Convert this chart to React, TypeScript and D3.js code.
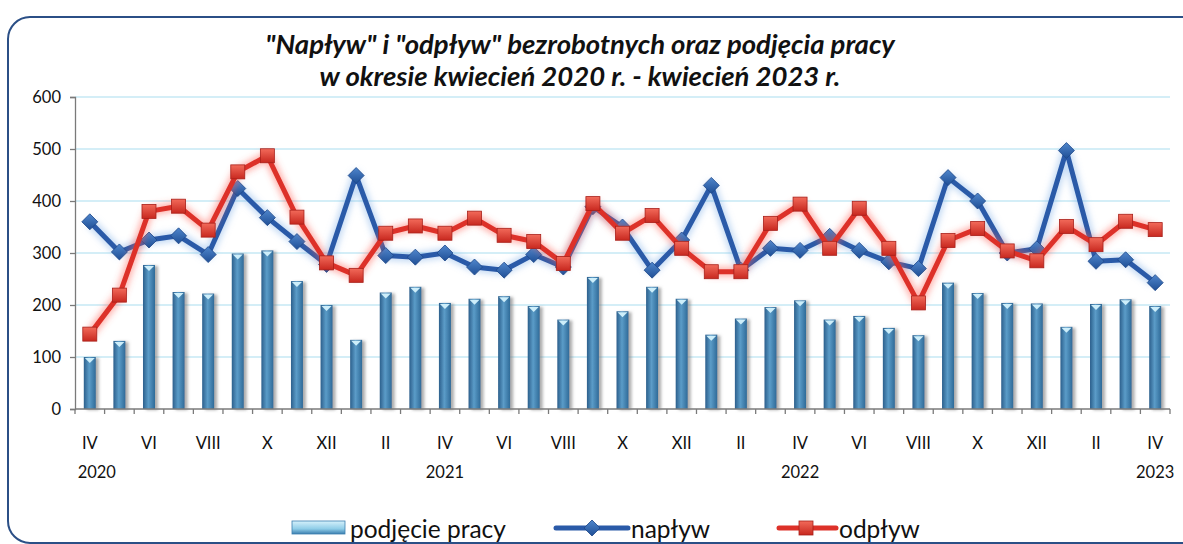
import * as d3 from "d3";
import { useEffect, useRef } from "react";

// months IV 2020 .. IV 2023
const months = [
  "IV", "V", "VI", "VII", "VIII", "IX", "X", "XI", "XII", "I", "II", "III",
  "IV", "V", "VI", "VII", "VIII", "IX", "X", "XI", "XII", "I", "II", "III",
  "IV", "V", "VI", "VII", "VIII", "IX", "X", "XI", "XII", "I", "II", "III",
  "IV",
];
const yearLabels = [
  { index: 0, text: "2020" },
  { index: 12, text: "2021" },
  { index: 24, text: "2022" },
  { index: 36, text: "2023" },
];
const podjecie = [
  100, 131, 277, 225, 222, 299, 305, 246, 200, 133, 224, 235,
  204, 212, 217, 198, 172, 254, 188, 235, 212, 143, 174, 196,
  209, 172, 179, 156, 142, 243, 223, 204, 203, 158, 202, 211,
  198,
];
const naplyw = [
  360, 302, 325, 333, 297, 424, 368, 322, 278, 449, 295, 292,
  300, 273, 267, 297, 273, 389, 350, 267, 325, 430, 267, 309,
  305, 332, 305, 283, 270, 445, 400, 300, 308, 497, 284, 287,
  243,
];
const odplyw = [
  144, 219, 380, 390, 344, 456, 487, 369, 281, 257, 338, 352,
  338, 367, 334, 322, 280, 395, 338, 372, 309, 264, 264, 357,
  394, 309, 386, 309, 204, 324, 347, 304, 285, 351, 316, 361,
  345,
];
const yTicks = [0, 100, 200, 300, 400, 500, 600];

const W = 1183;
const H = 544;
const FONT = "Lato, 'Open Sans', sans-serif";

export default function App() {
  const svgRef = useRef<SVGSVGElement>(null);

  useEffect(() => {
    const left = 75, right = 1170;
    const svg = d3.select(svgRef.current).html("");

    const defs = svg.append("defs");
    const barGrad = defs.append("linearGradient").attr("id", "barGrad")
      .attr("x1", 0).attr("x2", 1).attr("y1", 0).attr("y2", 0);
    barGrad.append("stop").attr("offset", "0%").attr("stop-color", "#2c5f8c");
    barGrad.append("stop").attr("offset", "45%").attr("stop-color", "#5b9cc8");
    barGrad.append("stop").attr("offset", "100%").attr("stop-color", "#2f6a98");
    const legGrad = defs.append("linearGradient").attr("id", "legGrad")
      .attr("x1", 0).attr("x2", 0).attr("y1", 0).attr("y2", 1);
    legGrad.append("stop").attr("offset", "0%").attr("stop-color", "#d6f1fb");
    legGrad.append("stop").attr("offset", "60%").attr("stop-color", "#8fcde8");
    legGrad.append("stop").attr("offset", "100%").attr("stop-color", "#3c7fb0");
    const sqGrad = defs.append("linearGradient").attr("id", "sqGrad")
      .attr("x1", 0).attr("x2", 0).attr("y1", 0).attr("y2", 1);
    sqGrad.append("stop").attr("offset", "0%").attr("stop-color", "#f26a5a");
    sqGrad.append("stop").attr("offset", "100%").attr("stop-color", "#c8281f");
    const dmGrad = defs.append("linearGradient").attr("id", "dmGrad")
      .attr("x1", 0).attr("x2", 0).attr("y1", 0).attr("y2", 1);
    dmGrad.append("stop").attr("offset", "0%").attr("stop-color", "#4f86cc");
    dmGrad.append("stop").attr("offset", "100%").attr("stop-color", "#1f4f96");
    const blur = defs.append("filter").attr("id", "glow")
      .attr("x", "-10%").attr("y", "-30%").attr("width", "120%").attr("height", "160%");
    blur.append("feGaussianBlur").attr("stdDeviation", 3);
    const shadow = defs.append("filter").attr("id", "shadow")
      .attr("x", "-50%").attr("y", "-10%").attr("width", "250%").attr("height", "130%");
    shadow.append("feDropShadow").attr("dx", 3).attr("dy", 1)
      .attr("stdDeviation", 1.5).attr("flood-color", "#777").attr("flood-opacity", 0.6);

    // frame
    svg.append("rect")
      .attr("x", 8).attr("y", 17).attr("width", 1200).attr("height", 526)
      .attr("rx", 22).attr("fill", "#fff")
      .attr("stroke", "#2b4f86").attr("stroke-width", 2);

    // title
    const title = svg.append("text")
      .attr("text-anchor", "middle")
      .attr("font-family", FONT).attr("font-weight", "bold")
      .attr("font-style", "italic").attr("font-size", 27.5).attr("fill", "#111");
    title.append("tspan").attr("x", 580).attr("y", 54)
      .text('"Napływ" i "odpływ" bezrobotnych oraz podjęcia pracy');
    title.append("tspan").attr("x", 580).attr("y", 86)
      .text("w okresie kwiecień 2020 r. - kwiecień 2023 r.");

    const x = d3.scaleBand<number>()
      .domain(d3.range(months.length))
      .range([left, right])
      .padding(0);
    const y = d3.scaleLinear().domain([0, 600]).range([409, 97]);
    const cx = (i: number) => (x(i) as number) + x.bandwidth() / 2;

    // grid
    svg.append("g")
      .selectAll("line")
      .data(yTicks.filter((t) => t > 0))
      .join("line")
      .attr("x1", left).attr("x2", right)
      .attr("y1", (d) => y(d)).attr("y2", (d) => y(d))
      .attr("stroke", "#a9def0").attr("stroke-width", 1.2);

    // y axis
    const yAxis = svg.append("g")
      .attr("transform", `translate(${left},0)`)
      .call(d3.axisLeft(y).tickValues(yTicks).tickSize(5).tickPadding(9));
    yAxis.select(".domain").attr("stroke", "#7a7a7a").attr("stroke-width", 1.3);
    yAxis.selectAll(".tick line").attr("stroke", "#7a7a7a").attr("stroke-width", 1.3);
    yAxis.selectAll(".tick text")
      .attr("font-family", FONT).attr("font-size", 16.5).attr("fill", "#111");

    // bars
    const bw = 12;
    const bars = svg.append("g").attr("filter", "url(#shadow)");
    bars.selectAll("rect")
      .data(podjecie)
      .join("rect")
      .attr("x", (_, i) => cx(i) - bw / 2)
      .attr("width", bw)
      .attr("y", (d) => y(d))
      .attr("height", (d) => y(0) - y(d))
      .attr("fill", "url(#barGrad)");
    svg.append("g")
      .selectAll("path")
      .data(podjecie)
      .join("path")
      .attr("d", (d, i) => `M${cx(i) - 5},${y(d) + 1}L${cx(i) + 5},${y(d) + 1}L${cx(i)},${y(d) + 6}Z`)
      .attr("fill", "#cdeefa");

    // x axis
    const xAxisY = y(0);
    svg.append("line")
      .attr("x1", left).attr("x2", right)
      .attr("y1", xAxisY).attr("y2", xAxisY)
      .attr("stroke", "#7a7a7a").attr("stroke-width", 1.3);
    svg.append("g")
      .selectAll("line")
      .data(d3.range(months.length + 1))
      .join("line")
      .attr("x1", (i) => (i < months.length ? (x(i) as number) : right))
      .attr("x2", (i) => (i < months.length ? (x(i) as number) : right))
      .attr("y1", xAxisY).attr("y2", xAxisY + 5)
      .attr("stroke", "#7a7a7a").attr("stroke-width", 1.3);
    svg.append("g")
      .selectAll("text")
      .data(months.map((m, i) => ({ m, i })).filter((d) => d.i % 2 === 0))
      .join("text")
      .attr("x", (d) => cx(d.i)).attr("y", 449)
      .attr("text-anchor", "middle")
      .attr("font-family", FONT).attr("font-size", 16.5).attr("fill", "#111")
      .text((d) => d.m);
    svg.append("g")
      .selectAll("text")
      .data(yearLabels)
      .join("text")
      .attr("x", (d) => cx(d.index) + (d.index === 0 ? 7 : 0)).attr("y", 478)
      .attr("text-anchor", "middle")
      .attr("font-family", FONT).attr("font-size", 16.5).attr("fill", "#111")
      .text((d) => d.text);

    // lines
    const line = d3.line<number>().x((_, i) => cx(i)).y((d) => y(d));
    const series = [
      { data: naplyw, color: "#2a5aa8", glow: "#7fb0e6", marker: "diamond" },
      { data: odplyw, color: "#dd3129", glow: "#ff5a50", marker: "square" },
    ];
    series.forEach((s) => {
      svg.append("path").datum(s.data).attr("d", line)
        .attr("fill", "none").attr("stroke", s.glow).attr("stroke-width", 10)
        .attr("stroke-opacity", 0.45).attr("stroke-linejoin", "round")
        .attr("filter", "url(#glow)");
      svg.append("path").datum(s.data).attr("d", line)
        .attr("fill", "none").attr("stroke", s.color).attr("stroke-width", 5)
        .attr("stroke-linejoin", "round");
      const g = svg.append("g");
      if (s.marker === "diamond") {
        g.selectAll("path").data(s.data).join("path")
          .attr("d", (d, i) => `M${cx(i)},${y(d) - 8}L${cx(i) + 8},${y(d)}L${cx(i)},${y(d) + 8}L${cx(i) - 8},${y(d)}Z`)
          .attr("fill", "url(#dmGrad)").attr("stroke", "#1d4688").attr("stroke-width", 0.8);
      } else {
        g.selectAll("rect").data(s.data).join("rect")
          .attr("x", (_, i) => cx(i) - 7).attr("y", (d) => y(d) - 7)
          .attr("width", 14).attr("height", 14)
          .attr("fill", "url(#sqGrad)").attr("stroke", "#a8201a").attr("stroke-width", 0.8);
      }
    });

    // legend
    const leg = svg.append("g").attr("font-family", FONT).attr("font-size", 24.5).attr("fill", "#111");
    leg.append("rect").attr("x", 292).attr("y", 521).attr("width", 53).attr("height", 13)
      .attr("fill", "url(#legGrad)").attr("stroke", "#3c7fb0").attr("stroke-width", 0.8);
    leg.append("text").attr("x", 350).attr("y", 538).text("podjęcie pracy");
    leg.append("line").attr("x1", 556).attr("x2", 628).attr("y1", 528).attr("y2", 528)
      .attr("stroke", "#2a5aa8").attr("stroke-width", 5).attr("stroke-linecap", "round");
    leg.append("path").attr("d", "M592,520L600,528L592,536L584,528Z")
      .attr("fill", "url(#dmGrad)").attr("stroke", "#1d4688").attr("stroke-width", 0.8);
    leg.append("text").attr("x", 631).attr("y", 538).text("napływ");
    leg.append("line").attr("x1", 779).attr("x2", 836).attr("y1", 528).attr("y2", 528)
      .attr("stroke", "#dd3129").attr("stroke-width", 5).attr("stroke-linecap", "round");
    leg.append("rect").attr("x", 799).attr("y", 521).attr("width", 14).attr("height", 14)
      .attr("fill", "url(#sqGrad)").attr("stroke", "#a8201a").attr("stroke-width", 0.8);
    leg.append("text").attr("x", 839).attr("y", 538).text("odpływ");
  }, []);

  return (
    <svg
      ref={svgRef}
      width={W}
      height={H}
      style={{ position: "absolute", left: 0, top: 0, display: "block", background: "#fff" }}
    />
  );
}
